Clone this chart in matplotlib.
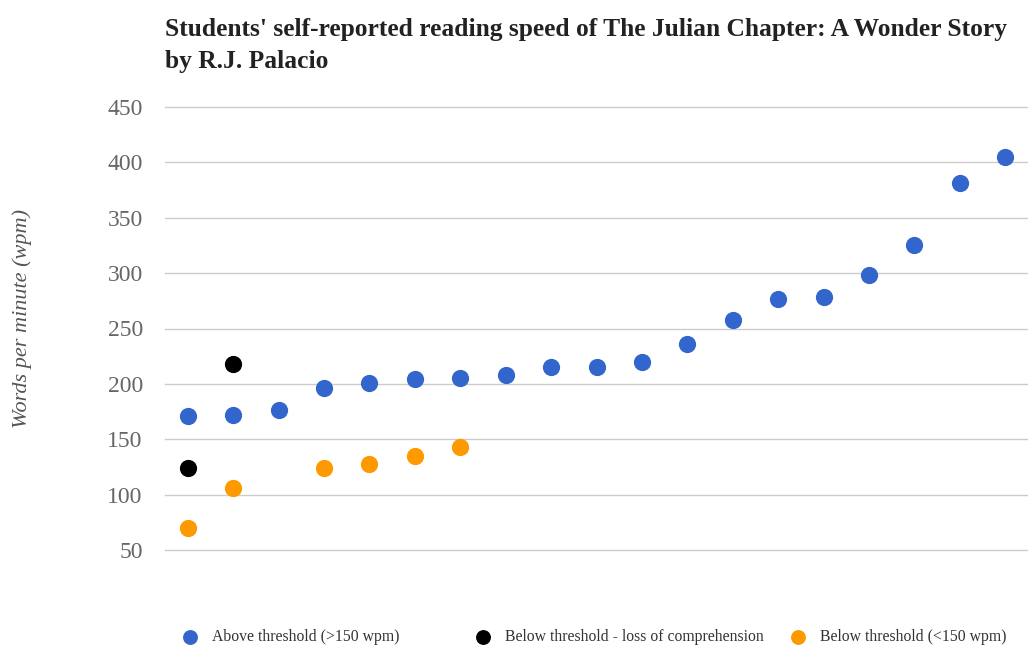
import matplotlib
matplotlib.use('Agg')
import matplotlib.pyplot as plt
import numpy as np

# student index (sorted by speed), one column per student
above_x = list(range(1, 20))
above_wpm = [171, 172, 176, 196, 201, 204, 205, 208, 215, 215, 220, 236,
             258, 277, 278, 298, 325, 381, 405]

loss_x = [1, 2]
loss_wpm = [124, 218]

below_x = [1, 2, 4, 5, 6, 7]
below_wpm = [70, 106, 124, 128, 135, 143]

y_ticks = [50, 100, 150, 200, 250, 300, 350, 400, 450]

labels = ['Above threshold (>150 wpm)',
          'Below threshold - loss of comprehension',
          'Below threshold (<150 wpm)']
colors = ['#3366cc', '#000000', '#ff9900']

plt.rcParams['font.family'] = ['Liberation Serif', 'DejaVu Serif']

fig = plt.figure(figsize=(10.28, 6.52), dpi=100)
ax = fig.add_axes([165/1028, 1-550/652, 1-165/1028, 443/652])

handles = []
handles.append(ax.scatter(above_x, above_wpm, s=130, color=colors[0], label=labels[0], zorder=3, clip_on=False))
handles.append(ax.scatter(loss_x, loss_wpm, s=130, color=colors[1], label=labels[1], zorder=3, clip_on=False))
handles.append(ax.scatter(below_x, below_wpm, s=130, color=colors[2], label=labels[2], zorder=3, clip_on=False))

ax.set_xlim(0.5, 19.5)
ax.set_ylim(50, 450)
ax.set_yticks(y_ticks)
ax.set_xticks([])
ax.tick_params(axis='y', length=0, pad=16, labelsize=17, labelcolor='#666666')
ax.grid(axis='y', color='#cccccc', linewidth=1)
for gl in ax.get_ygridlines():
    gl.set_clip_on(False)
ax.set_axisbelow(True)
for s in ax.spines.values():
    s.set_visible(False)

fig.text(22/1028, 1-319/652, 'Words per minute (wpm)', rotation=90, style='italic',
         fontsize=16, color='#555555', ha='center', va='center')

fig.text(165/1028, 1-18/652,
         "Students' self-reported reading speed of The Julian Chapter: A Wonder Story\nby R.J. Palacio",
         fontsize=18.4, fontweight='bold', color='#222222', ha='left', va='top', linespacing=1.5)

# legend entries placed one by one, like the original chart
marker_px = [190, 483, 798]
for h, lab, mx in zip(handles, labels, marker_px):
    fig.legend([h], [lab], loc='center left', bbox_to_anchor=((mx - 8)/1028, 1-637/652),
               frameon=False, fontsize=11.3, markerscale=0.85, handlelength=1.0,
               handletextpad=0.9, borderpad=0, borderaxespad=0, labelcolor='#333333')

fig.savefig('out.png', dpi=100)
